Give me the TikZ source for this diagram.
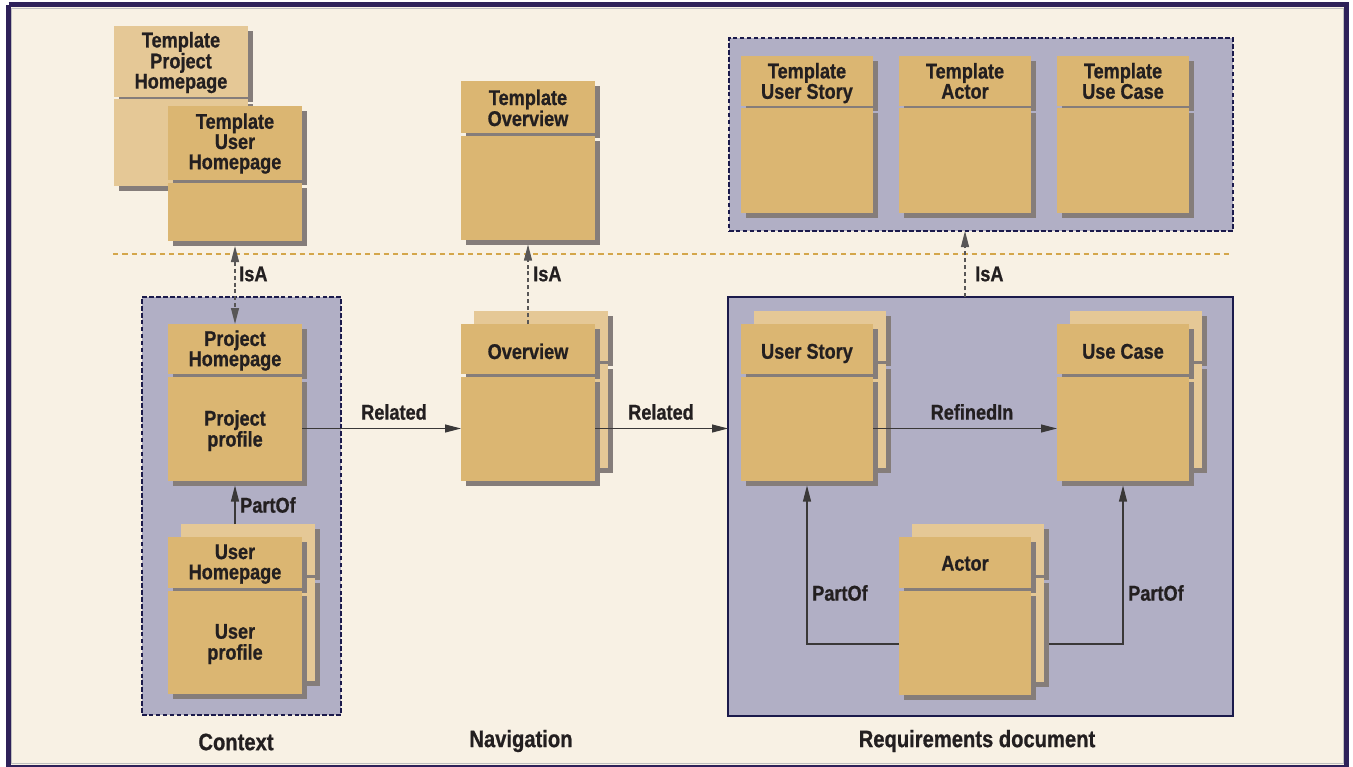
\documentclass[tikz,border=0pt]{standalone}
\usepackage{fontspec}
\newfontfamily\lblfont{Liberation Sans}[FakeStretch=0.85,FakeBold=0.8]
\usetikzlibrary{arrows.meta,shadows}
\definecolor{cream}{HTML}{F8F1E4}
\definecolor{tan}{HTML}{DBB672}
\definecolor{tanl}{HTML}{E5C896}
\definecolor{shgray}{HTML}{857D7A}
\definecolor{lav}{HTML}{B1AFC5}
\definecolor{navy}{HTML}{1B1A4B}
\definecolor{framec}{HTML}{2E2159}
\definecolor{ochre}{HTML}{D4A64A}
\definecolor{txt}{HTML}{231F20}
\definecolor{connc}{HTML}{3A3838}
\newcommand\lbl{\lblfont\bfseries\fontsize{16}{15.75}\selectfont}
\newcommand\biglbl{\lblfont\bfseries\fontsize{17.8}{18}\selectfont}
\tikzset{
  box/.style={fill=tan, inner sep=0pt, outer sep=0pt, anchor=north west, align=center,
    text=txt, font=\lbl,
    drop shadow={shadow xshift=3.75pt, shadow yshift=-3.75pt, fill=shgray, opacity=1}},
  boxl/.style={box, fill=tanl},
  container/.style={fill=lav, draw=navy, line width=1.6pt, inner sep=0pt, outer sep=0pt, anchor=north west},
  dashcont/.style={container, line width=2.1pt, dash pattern=on 3.4pt off 1.8pt},
  lab/.style={text=txt, font=\lbl, inner sep=0pt},
  bottomlab/.style={text=txt, font=\biglbl, inner sep=0pt},
  conn/.style={draw=connc, line width=0.8pt, -{Triangle[length=12pt,width=6pt]}},
  isa/.style={conn, draw=connc!85, dash pattern=on 3pt off 2.2pt},
}
% text block, centred on the node centre and moved down by #1 pt
\newcommand\tx[2]{\raisebox{-#1pt}[0pt][0pt]{\begin{tabular}{@{}c@{}}#2\end{tabular}}}
% name, x, y, width, header height, body height, style, header text, body text
\newcommand\cls[9]{%
  \node[#7, minimum width={#4*0.75pt}, minimum height={#5*0.75pt}] (#1h) at (#2,#3) {#8};
  \node[#7, minimum width={#4*0.75pt}, minimum height={#6*0.75pt}] (#1b) at (#2,{#3+#5+2.5}) {#9};}
\begin{document}
\begin{tikzpicture}[x=0.75pt,y=-0.75pt]
\useasboundingbox (0,0) rectangle (1353,767);
\fill[white] (0,0) rectangle (1353,767);
\fill[cream] (8,5) rectangle (1347,767);
\draw[gray!50, line width=0.6pt] (11.5,8.5) rectangle (1343.5,763.5);
\draw[framec, line width=3.75pt] (8.5,5) -- (1346.5,5) -- (1346.5,767);
\draw[framec, line width=3.75pt] (8.5,5) -- (8.5,767) -- (1346.5,767);

% containers
\node[dashcont, minimum width={199*0.75pt}, minimum height={418*0.75pt}] (ctx) at (142,297) {};
\node[container, minimum width={505*0.75pt}, minimum height={419*0.75pt}] (req) at (728,297) {};
\node[dashcont, minimum width={504*0.75pt}, minimum height={193*0.75pt}] (tmpl) at (729,38) {};

% separator
\coordinate (sepL) at (113,254);
\coordinate (sepR) at (1232,254);
\draw[ochre, line width=2pt, dash pattern=on 4pt off 3pt] (sepL) -- (sepR);

% templates
\setlength{\tabcolsep}{0pt}
\renewcommand{\arraystretch}{0.88}
\cls{tph}{114}{26}{134}{71}{86.5}{boxl}{\tx{5.5}{Template\\Project\\Homepage}}{}
\cls{tuh}{168}{106}{134}{74}{58.5}{box}{\tx{5.1}{Template\\User\\Homepage}}{}
\cls{tov}{461}{81}{134}{52}{104}{box}{\tx{7.0}{Template\\Overview}}{}
\cls{tus}{741}{56}{132}{50}{104}{box}{\tx{6.3}{Template\\User Story}}{}
\cls{tac}{899}{56}{132}{50}{104}{box}{\tx{6.3}{Template\\Actor}}{}
\cls{tuc}{1057}{56}{132}{50}{104}{box}{\tx{6.3}{Template\\Use Case}}{}

% context
\cls{ph}{168}{324}{134}{50}{104}{box}{\tx{5.9}{Project\\Homepage}}{\tx{6.3}{Project\\profile}}
\cls{uhB}{181}{524}{134}{51}{103.5}{boxl}{}{}
\cls{uh}{168}{537}{134}{51}{103.5}{box}{\tx{5.9}{User\\Homepage}}{\tx{6.1}{User\\profile}}

% navigation
\cls{ovB}{474}{311}{134}{50}{104}{boxl}{}{}
\cls{ov}{461}{324}{134}{50}{104}{box}{\tx{8.1}{Overview}}{}

% requirements
\cls{usB}{754}{311}{132}{50}{104}{boxl}{}{}
\cls{us}{741}{324}{132}{50}{104}{box}{\tx{8.1}{User Story}}{}
\cls{ucB}{1070}{311}{132}{50}{104}{boxl}{}{}
\cls{uc}{1057}{324}{132}{50}{104}{box}{\tx{8.1}{Use Case}}{}
\cls{acB}{912}{524}{132}{51}{104}{boxl}{}{}
\cls{ac}{899}{537}{132}{51}{104}{box}{\tx{7.0}{Actor}}{}

% connectors
\draw[isa, {Triangle[length=12pt,width=6pt]}-{Triangle[length=12pt,width=6pt]}]
  ([yshift=-3.75pt]tuhb.south) -- (phh.north);
\draw[isa] (ovh.north) -- ([yshift=-3.75pt]tovb.south);
\draw[isa] (tacb.south |- req.north) -- (tacb.south |- tmpl.south);
\draw[conn] (uhBh.north -| phb.south) -- ([yshift=-3.75pt]phb.south);
\draw[conn] (phb.east) -- (ovb.west);
\draw[conn] (ovb.east) -- (ovb.east -| req.west);
\draw[conn] (usb.east) -- (ucb.west);
\draw[conn] (acb.west |- 0,644) -| ([yshift=-3.75pt]usb.south);
\draw[conn] ([xshift=3.75pt]acBb.east |- 0,644) -| ([yshift=-3.75pt]ucb.south);

% labels
\node[lab, anchor=west] (l1) at (239,274) {IsA};
\node[lab, anchor=west] (l2) at (533,274) {IsA};
\node[lab, anchor=west] (l3) at (975,274) {IsA};
\node[lab, anchor=west] (l4) at (240,505) {PartOf};
\node[lab, anchor=west] (l5) at (812,593) {PartOf};
\node[lab, anchor=west] (l6) at (1128,593) {PartOf};
\node[lab] (l7) at (394,412) {Related};
\node[lab] (l8) at (661,412) {Related};
\node[lab] (l9) at (972,412) {RefinedIn};
\node[bottomlab] (b1) at (236,742) {Context};
\node[bottomlab] (b2) at (521,741) {Navigation};
\node[bottomlab] (b3) at (977,741) {Requirements document};
\end{tikzpicture}
\end{document}
